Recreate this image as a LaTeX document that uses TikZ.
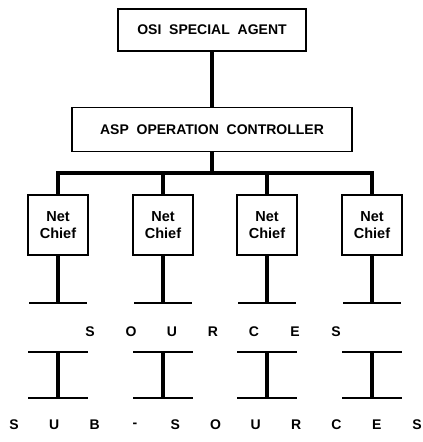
\documentclass[tikz,border=0pt]{standalone}
\usepackage{fontspec}
\setmainfont{Liberation Sans}
\usetikzlibrary{positioning}
\tikzstyle{box} = [rectangle, draw=black, line width=1.5pt, font=\fontsize{14}{16}\selectfont\bfseries]
\tikzstyle{chief} = [rectangle, draw=black, line width=1.5pt, minimum width=60pt, minimum height=60pt, align=center, font=\fontsize{14.5}{17}\selectfont\bfseries]
\tikzstyle{link} = [line width=4pt]
\tikzstyle{beam} = [line width=2.2pt]
\tikzstyle{letter} = [inner sep=0pt, font=\fontsize{14}{16}\selectfont\bfseries]

\begin{document}
\begin{tikzpicture}[x=1pt, y=1pt]
    \useasboundingbox (0,0) rectangle (423,-442);

    \node (osi) [box, minimum width=188pt, minimum height=42pt] at (212,-30) {OSI\ \ SPECIAL\ \ AGENT};
    \node (asp) [box, minimum width=280pt, minimum height=44pt, below=55pt of osi] {ASP\ \ OPERATION\ \ CONTROLLER};
    \foreach \i/\x in {1/58,2/163,3/267,4/372}
      \node (chief\i) [chief] at (\x,-225) {Net\\Chief};
    \coordinate (bus) at (asp.south |- 0,-173);

    \draw[link] (osi) -- (asp);
    \draw[link] (asp) -- (bus);
    \draw[link] (chief1.north) |- (chief4.north |- bus) -- (chief4.north);
    \draw[link] (chief2.north) -- (chief2.north |- bus);
    \draw[link] (chief3.north) -- (chief3.north |- bus);

    % sources
    \foreach \i in {1,...,4} {
      \coordinate (src\i) at (chief\i.south |- 0,-303);
      \draw[link] (chief\i) -- (src\i);
      \draw[beam] ([xshift=-29pt]src\i) -- ([xshift=29pt]src\i);
    }
    \foreach \l [count=\n from 0] in {S,O,U,R,C,E,S}
      \node (srcl\n) [letter] at (90+41*\n,-332) {\l};

    % sub-sources
    \foreach \x in {58,163,267,372} {
      \draw[beam] (\x-30,-352) -- (\x+30,-352);
      \draw[beam] (\x-30,-398) -- (\x+30,-398);
      \draw[line width=4.5pt] (\x,-352) -- (\x,-398);
    }
    \foreach \l [count=\n from 0] in {S,U,B,-,S,O,U,R,C,E,S}
      \node (subl\n) [letter] at (14+40.3*\n,-425) {\l};
\end{tikzpicture}
\end{document}
